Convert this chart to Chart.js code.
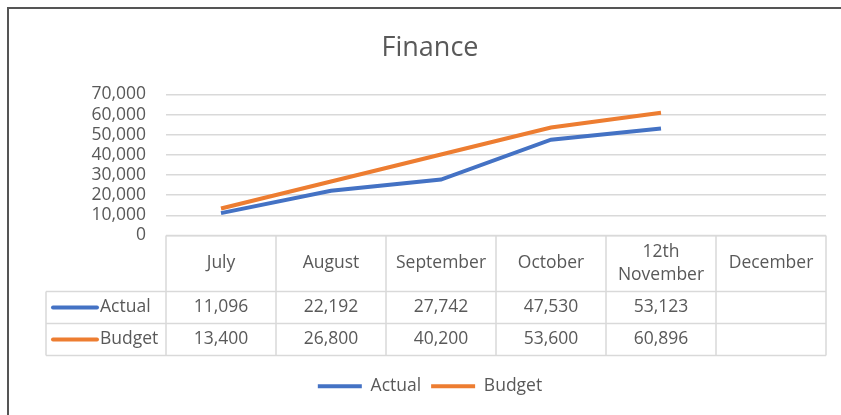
<!DOCTYPE html>
<html>
<head>
<meta charset="utf-8">
<script src="https://cdn.jsdelivr.net/npm/chart.js@4"></script>
<style>
  html, body { margin: 0; padding: 0; background: #fff; }
  #wrap { position: relative; width: 841px; height: 415px; }
</style>
</head>
<body>
<div id="wrap"><canvas id="financeChart" width="841" height="415"></canvas></div>
<script>
  // ---- DATA ----
  const months = ["July", "August", "September", "October", ["12th", "November"], "December"];
  const actual = [11096, 22192, 27742, 47530, 53123, null];
  const budget = [13400, 26800, 40200, 53600, 60896, null];
  const seriesNames = ["Actual", "Budget"];
  const seriesColors = ["#4472C4", "#ED7D31"];

  const FONT = "'Open Sans', sans-serif";
  const TEXT = "#595959";
  const LINE = "#d9d9d9";
  const FS = 17.5;

  // ---- FRAME PLUGIN (outer border) ----
  const frame = {
    id: "frame",
    beforeDraw(chart) {
      const { ctx } = chart;
      ctx.save();
      ctx.strokeStyle = "#555";
      ctx.lineWidth = 2;
      ctx.beginPath();
      ctx.moveTo(8, chart.height);
      ctx.lineTo(8, 8);
      ctx.lineTo(chart.width, 8);
      ctx.stroke();
      ctx.restore();
    }
  };

  // ---- DATA TABLE PLUGIN ----
  const dataTable = {
    id: "dataTable",
    afterDraw(chart) {
      const { ctx, chartArea, scales } = chart;
      const x = scales.x;
      const n = months.length;
      const colW = x.width / n;
      const top = chartArea.bottom;
      const hdrH = 56, rowH = 32;
      const labelLeft = 46;
      const bottom = top + hdrH + rowH * 2;

      ctx.save();
      ctx.strokeStyle = LINE;
      ctx.lineWidth = 1.5;
      ctx.beginPath();
      // horizontal lines
      ctx.moveTo(chartArea.left, top); ctx.lineTo(chartArea.right, top);
      for (let r = 0; r <= 2; r++) {
        const y = top + hdrH + r * rowH;
        ctx.moveTo(labelLeft, y); ctx.lineTo(chartArea.right, y);
      }
      // vertical lines
      ctx.moveTo(labelLeft, top + hdrH); ctx.lineTo(labelLeft, bottom);
      for (let i = 0; i <= n; i++) {
        const cx = x.getPixelForValue(Math.min(i, n - 1)) + (i < n ? -colW / 2 : colW / 2);
        ctx.moveTo(cx, top); ctx.lineTo(cx, bottom);
      }
      ctx.stroke();

      ctx.fillStyle = TEXT;
      ctx.font = FS + "px " + FONT;
      ctx.textAlign = "center";
      ctx.textBaseline = "middle";

      // header
      months.forEach((m, i) => {
        const cx = x.getPixelForValue(i);
        const lines = Array.isArray(m) ? m : [m];
        const lh = 23;
        const y0 = top + hdrH / 2 - (lines.length - 1) * lh / 2;
        lines.forEach((t, k) => ctx.fillText(t, cx, y0 + k * lh));
      });

      // rows
      chart.data.datasets.forEach((ds, r) => {
        const cy = top + hdrH + r * rowH + rowH / 2;
        ctx.strokeStyle = ds.borderColor;
        ctx.lineWidth = 4;
        ctx.lineCap = "round";
        ctx.beginPath();
        ctx.moveTo(53, cy); ctx.lineTo(97, cy);
        ctx.stroke();
        ctx.textAlign = "left";
        ctx.fillText(ds.label, 100, cy);
        ctx.textAlign = "center";
        ds.data.forEach((v, i) => {
          if (v == null) return;
          ctx.fillText(v.toLocaleString("en-US"), x.getPixelForValue(i), cy);
        });
      });
      ctx.restore();
    }
  };

  // ---- CHART ----
  new Chart(document.getElementById("financeChart"), {
    type: "line",
    data: {
      labels: months,
      datasets: [
        { label: seriesNames[0], data: actual, borderColor: seriesColors[0], backgroundColor: seriesColors[0] },
        { label: seriesNames[1], data: budget, borderColor: seriesColors[1], backgroundColor: seriesColors[1] }
      ].map(d => Object.assign(d, { borderWidth: 4, pointRadius: 0, tension: 0, spanGaps: false }))
    },
    options: {
      responsive: false,
      animation: false,
      layout: { padding: { left: 34, right: 15, top: 0, bottom: 10 } },
      plugins: {
        title: {
          display: true,
          text: "Finance",
          color: TEXT,
          font: { family: FONT, size: 27, weight: "normal" },
          padding: { top: 32, bottom: 30 }
        },
        legend: {
          position: "bottom",
          labels: {
            usePointStyle: true,
            pointStyle: "line",
            pointStyleWidth: 44,
            color: TEXT,
            font: { family: FONT, size: FS },
            padding: 10
          }
        },
        tooltip: { enabled: false }
      },
      scales: {
        x: {
          offset: true,
          grid: { display: false },
          border: { display: false },
          ticks: { display: false },
          afterFit(scale) { scale.height = 132; }
        },
        y: {
          min: 0,
          max: 70000,
          grid: { color: LINE, lineWidth: 1.5, drawTicks: false },
          border: { display: false },
          ticks: {
            stepSize: 10000,
            autoSkip: false,
            padding: 20,
            color: TEXT,
            font: { family: FONT, size: FS },
            callback: v => v.toLocaleString("en-US")
          },
          afterFit(scale) { scale.width = 132; }
        }
      }
    },
    plugins: [frame, dataTable]
  });
</script>
</body>
</html>
